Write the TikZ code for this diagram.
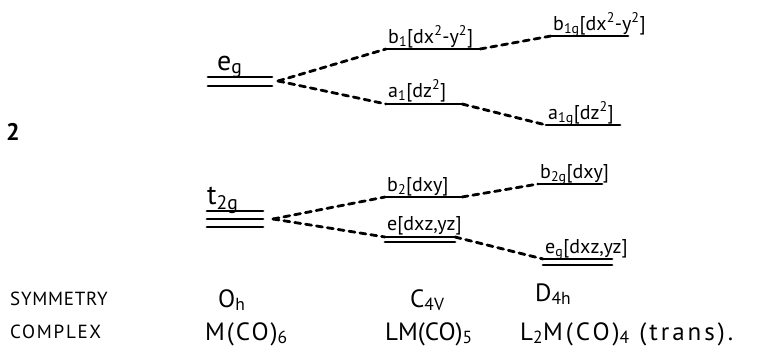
\documentclass[tikz,border=0pt]{standalone}
\usepackage{fontspec}
\setmainfont{PT Sans}
\newcommand{\sbs}[1]{\textsubscript{#1}}
\newcommand{\sps}[1]{\textsuperscript{#1}}
\begin{document}
\begin{tikzpicture}[x=1pt,y=-1pt,
  lvl/.style={line width=2.8pt, line cap=round},
  conn/.style={line width=2.8pt, dash pattern=on 6pt off 5pt, line cap=round},
  lab/.style={inner sep=0pt, anchor=base west, font=\fontsize{20}{20}\selectfont},
  glab/.style={inner sep=0pt, anchor=base west, font=\fontsize{28}{28}\selectfont},
  bot/.style={inner sep=0pt, anchor=base west, font=\fontsize{25}{25}\selectfont},
  side/.style={inner sep=0pt, anchor=base west, font=\fontsize{19}{19}\selectfont\addfontfeatures{LetterSpace=4}}]
\useasboundingbox (0,0) rectangle (771,359);

\node[inner sep=0pt, font=\fontsize{24}{24}\selectfont\bfseries] (two) at (13,132) {2};

% O_h levels
\node[glab] (eg) at (217,70) {e\sbs{g}};
\draw[lvl] (208,77) -- (272,77);
\draw[lvl] (208,86) -- (272,86);
\coordinate (egR) at (278,81);

\node[glab] (t2g) at (207,204) {t\sbs{2g}};
\draw[lvl] (207,211) -- (263,211);
\draw[lvl] (207,219) -- (263,219);
\draw[lvl] (207,227) -- (263,227);
\coordinate (t2gR) at (273,219);

% C_4v levels
\node[lab] (b1) at (388,43) {b\sbs{1}[dx\sps{2}-y\sps{2}]};
\draw[lvl] (386,49) coordinate (b1L) -- (480,49) coordinate (b1R);
\node[lab] (a1) at (388,97) {a\sbs{1}[dz\sps{2}]};
\draw[lvl] (386,104) coordinate (a1L) -- (462,104) coordinate (a1R);
\node[lab] (b2) at (387,191) {b\sbs{2}[dxy]};
\draw[lvl] (385,197) coordinate (b2L) -- (462,197) coordinate (b2R);
\node[lab] (e) at (387,230) {e[dxz,yz]};
\draw[lvl] (385,237) coordinate (eL) -- (455,237) coordinate (eR);
\draw[lvl] (385,242) -- (455,242);

% D_4h levels
\node[lab] (b1g) at (553,30) {b\sbs{1g}[dx\sps{2}-y\sps{2}]};
\draw[lvl] (551,36) coordinate (b1gL) -- (628,36);
\node[lab] (a1g) at (548,119) {a\sbs{1g}[dz\sps{2}]};
\draw[lvl] (546,125) coordinate (a1gL) -- (620,125);
\node[lab] (b2g) at (540,178) {b\sbs{2g}[dxy]};
\draw[lvl] (538,184) coordinate (b2gL) -- (602,184);
\node[lab] (egD) at (545,253) {e\sbs{g}[dxz,yz]};
\draw[lvl] (543,259) coordinate (egDL) -- (612,259);
\draw[lvl] (543,265) -- (612,265);

% correlation lines
\draw[conn] (egR) -- (b1L);
\draw[conn] (egR) -- (a1L);
\draw[conn] (b1R) -- (b1gL);
\draw[conn] (a1R) -- (a1gL);
\draw[conn] (t2gR) -- (b2L);
\draw[conn] (t2gR) -- (eL);
\draw[conn] (b2R) -- (b2gL);
\draw[conn] (eR) -- (egDL);

% bottom rows
\node[side] (sym) at (10,305) {SYMMETRY};
\node[side, font=\fontsize{19}{19}\selectfont\addfontfeatures{LetterSpace=9}] (cpx) at (10,338) {COMPLEX};
\node[bot] (oh) at (218,307) {O\sbs{h}};
\node[bot] (c4v) at (410,307) {C\sbs{4V}};
\node[bot] (d4h) at (535,301) {D\sbs{4h}};
\node[bot, font=\fontsize{25}{25}\selectfont\addfontfeatures{LetterSpace=8}] (m) at (205,340) {M(CO)\sbs{6}};
\node[bot] (lm) at (385,340) {LM(CO)\sbs{5}};
\node[bot, font=\fontsize{25}{25}\selectfont\addfontfeatures{LetterSpace=12}] (l2m) at (520,340) {L\sbs{2}M(CO)\sbs{4} (trans).};
\end{tikzpicture}
\end{document}
